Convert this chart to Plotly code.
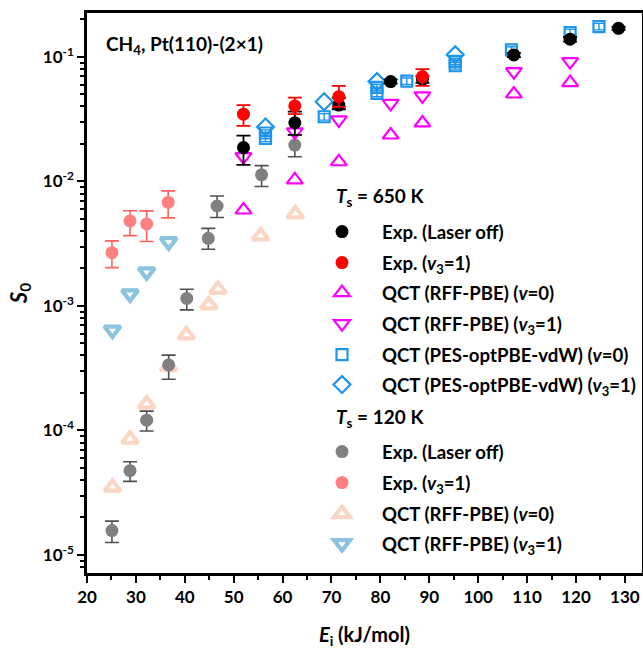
import plotly.graph_objects as go

# ---------------- Ts = 650 K ----------------
exp650_off_E = [52.0, 62.5, 71.5, 82.1, 88.6, 107.3, 118.8, 128.7]
exp650_off_S = [0.0187, 0.0296, 0.0411, 0.0634, 0.0660, 0.1038, 0.139, 0.1698]
exp650_off_hi = [0.0233, 0.0364, 0.0470, 0.0660, 0.0700, 0.1080, 0.1450, 0.1740]
exp650_off_lo = [0.0136, 0.0237, 0.0380, 0.0610, 0.0620, 0.0995, 0.1330, 0.1650]

exp650_v3_E = [52.0, 62.5, 71.5, 88.6]
exp650_v3_S = [0.0347, 0.0404, 0.0480, 0.0695]
exp650_v3_hi = [0.0410, 0.0471, 0.0585, 0.0797]
exp650_v3_lo = [0.0280, 0.0347, 0.0397, 0.0585]

qct650_v0_E = [52.0, 62.5, 71.5, 82.1, 88.6, 107.3, 118.8]
qct650_v0_S = [0.0059, 0.0103, 0.0144, 0.0236, 0.0295, 0.0504, 0.0622]

qct650_v3_E = [52.0, 62.5, 71.5, 82.1, 88.6, 107.3, 118.8]
qct650_v3_S = [0.0158, 0.0250, 0.0312, 0.0424, 0.0487, 0.0762, 0.0917]

pes_v0_E = [56.5, 56.5, 68.5, 79.3, 79.3, 85.4, 95.3, 95.3, 106.8, 118.8, 124.7]
pes_v0_S = [0.0245, 0.0222, 0.0331, 0.0570, 0.0510, 0.0640, 0.0920, 0.0850, 0.1140, 0.1570, 0.1754]

pes_v3_E = [56.5, 68.5, 79.3, 95.3]
pes_v3_S = [0.0274, 0.0437, 0.0634, 0.1040]

# ---------------- Ts = 120 K ----------------
exp120_off_E = [25.1, 28.8, 32.2, 36.7, 40.4, 44.8, 46.6, 55.7, 62.5]
exp120_off_S = [1.57e-5, 4.75e-5, 1.21e-4, 3.36e-4, 1.15e-3, 3.49e-3, 6.35e-3, 0.0113, 0.0196]
exp120_off_hi = [1.87e-5, 5.6e-5, 1.43e-4, 4.03e-4, 1.36e-3, 4.2e-3, 7.65e-3, 0.0134, 0.0237]
exp120_off_lo = [1.26e-5, 3.9e-5, 9.9e-5, 2.58e-4, 9.3e-4, 2.85e-3, 5.13e-3, 0.0091, 0.0158]

exp120_v3_E = [25.1, 28.8, 32.2, 36.6]
exp120_v3_S = [2.68e-3, 4.82e-3, 4.56e-3, 6.8e-3]
exp120_v3_hi = [3.33e-3, 5.82e-3, 5.8e-3, 8.4e-3]
exp120_v3_lo = [2.03e-3, 3.67e-3, 3.29e-3, 5.1e-3]

qct120_v0_E = [25.2, 28.8, 32.2, 36.7, 40.3, 44.9, 46.8, 55.5, 62.6]
qct120_v0_S = [3.5e-5, 8.5e-5, 1.63e-4, 3.25e-4, 5.85e-4, 1.02e-3, 1.36e-3, 3.65e-3, 5.48e-3]

qct120_v3_E = [25.2, 28.8, 32.2, 36.7]
qct120_v3_S = [6.4e-4, 1.25e-3, 1.88e-3, 3.28e-3]

y_tick_vals = [1e-5, 1e-4, 1e-3, 1e-2, 1e-1]
y_tick_text = ["10<sup>-5</sup>", "10<sup>-4</sup>", "10<sup>-3</sup>", "10<sup>-2</sup>", "10<sup>-1</sup>"]
x_tick_vals = [20, 30, 40, 50, 60, 70, 80, 90, 100, 110, 120, 130]

FONT = "Lato"
W, H = 643, 649
ML, MR, MT, MB = 87, 1, 13, 76
PH = H - MT - MB
PW = W - ML - MR


def errs(vals, hi, lo):
    return [h - v for v, h in zip(vals, hi)], [v - l for v, l in zip(vals, lo)]


fig = go.Figure()

# legend slot -> pixel row of the entry (screen y)
legend_rows = {
    "legend": 232, "legend2": 263, "legend3": 293, "legend4": 324, "legend5": 355, "legend6": 385,
    "legend7": 452, "legend8": 483, "legend9": 514, "legend10": 544,
}

# 120 K traces drawn first (underneath)
up, dn = errs(exp120_off_S, exp120_off_hi, exp120_off_lo)
t120_off = go.Scatter(x=exp120_off_E, y=exp120_off_S, mode="markers",
                      name="Exp. (Laser off)", legend="legend7", showlegend=True,
                      marker=dict(symbol="circle", size=13, color="#808080"),
                      error_y=dict(type="data", array=up, arrayminus=dn, color="#505050",
                                   thickness=1.6, width=7))
up, dn = errs(exp120_v3_S, exp120_v3_hi, exp120_v3_lo)
t120_v3 = go.Scatter(x=exp120_v3_E, y=exp120_v3_S, mode="markers",
                     name="Exp. (<i>v</i><sub>3</sub>=1)", legend="legend8", showlegend=True,
                     marker=dict(symbol="circle", size=13, color="#FF8080"),
                     error_y=dict(type="data", array=up, arrayminus=dn, color="#FF6060",
                                  thickness=1.6, width=7))
t120_q0 = go.Scatter(x=qct120_v0_E, y=qct120_v0_S, mode="markers",
                     name="QCT (RFF-PBE) (<i>v</i>=0)", legend="legend9", showlegend=True,
                     marker=dict(symbol="triangle-up-open", size=14, color="#FCD6C4",
                                 line=dict(width=4.2, color="#FCD6C4")))
t120_q3 = go.Scatter(x=qct120_v3_E, y=qct120_v3_S, mode="markers",
                     name="QCT (RFF-PBE) (<i>v</i><sub>3</sub>=1)", legend="legend10", showlegend=True,
                     marker=dict(symbol="triangle-down-open", size=14, color="#8CC3DE",
                                 line=dict(width=4.2, color="#8CC3DE")))

# 650 K traces
up, dn = errs(exp650_off_S, exp650_off_hi, exp650_off_lo)
t650_off = go.Scatter(x=exp650_off_E, y=exp650_off_S, mode="markers",
                      name="Exp. (Laser off)", legend="legend", showlegend=True,
                      marker=dict(symbol="circle", size=13, color="#000000"),
                      error_y=dict(type="data", array=up, arrayminus=dn, color="#000000",
                                   thickness=1.8, width=7))
up, dn = errs(exp650_v3_S, exp650_v3_hi, exp650_v3_lo)
t650_v3 = go.Scatter(x=exp650_v3_E, y=exp650_v3_S, mode="markers",
                     name="Exp. (<i>v</i><sub>3</sub>=1)", legend="legend2", showlegend=True,
                     marker=dict(symbol="circle", size=13, color="#FF0000"),
                     error_y=dict(type="data", array=up, arrayminus=dn, color="#FF0000",
                                  thickness=1.8, width=7))
t650_q0 = go.Scatter(x=qct650_v0_E, y=qct650_v0_S, mode="markers",
                     name="QCT (RFF-PBE) (<i>v</i>=0)", legend="legend3", showlegend=True,
                     marker=dict(symbol="triangle-up-open", size=14, color="#FF00FF",
                                 line=dict(width=2.2, color="#FF00FF")))
t650_q3 = go.Scatter(x=qct650_v3_E, y=qct650_v3_S, mode="markers",
                     name="QCT (RFF-PBE) (<i>v</i><sub>3</sub>=1)", legend="legend4", showlegend=True,
                     marker=dict(symbol="triangle-down-open", size=14, color="#FF00FF",
                                 line=dict(width=2.2, color="#FF00FF")))
t650_p0 = go.Scatter(x=pes_v0_E, y=pes_v0_S, mode="markers",
                     name="QCT (PES-optPBE-vdW) (<i>v</i>=0)", legend="legend5", showlegend=True,
                     marker=dict(symbol="square-open", size=11, color="#1C95EE",
                                 line=dict(width=2.2, color="#1C95EE")),
                     error_y=dict(type="percent", value=6, color="#1C95EE", thickness=1.4, width=6))
t650_p3 = go.Scatter(x=pes_v3_E, y=pes_v3_S, mode="markers",
                     name="QCT (PES-optPBE-vdW) (<i>v</i><sub>3</sub>=1)", legend="legend6", showlegend=True,
                     marker=dict(symbol="diamond-open", size=13, color="#1C95EE",
                                 line=dict(width=2.2, color="#1C95EE")))

for t in [t120_q0, t120_q3, t120_off, t120_v3, t650_q0, t650_q3, t650_p0, t650_p3, t650_off, t650_v3]:
    fig.add_trace(t)

axis_common = dict(showline=True, linecolor="black", linewidth=2.5, mirror=True,
                   showgrid=False, zeroline=False, ticks="outside", tickcolor="black",
                   tickfont=dict(family=FONT, size=17, color="black", weight="bold"))

y_minor = [m * 10 ** e for e in range(-6, 0) for m in range(2, 10)]

fig.update_xaxes(range=[20, 133.5], tickvals=x_tick_vals, ticklen=7, tickwidth=2,
                 minor=dict(ticks="outside", ticklen=4, tickwidth=2, tickcolor="black",
                            tickmode="array", tickvals=[25, 35, 45, 55, 65, 75, 85, 95, 105, 115, 125]),
                 title=dict(text="<i>E</i><sub>i</sub> (kJ/mol)", standoff=22,
                            font=dict(family=FONT, size=20, color="black", weight="bold")),
                 automargin=False, **axis_common)
fig.update_yaxes(type="log", range=[-5.145, -0.647], tickvals=y_tick_vals, ticktext=y_tick_text,
                 ticklen=7, tickwidth=2,
                 minor=dict(ticks="outside", ticklen=4, tickwidth=1.5, tickcolor="black",
                            tickmode="array", tickvals=y_minor),
                 title=dict(text="<i>S</i><sub>0</sub>", standoff=10,
                            font=dict(family=FONT, size=22, color="black", weight="bold")),
                 automargin=False, **axis_common)

fig.add_annotation(xref="paper", yref="paper", x=(104 - ML) / PW, y=(MT + PH - 45) / PH,
                   xanchor="left", yanchor="middle",
                   text="CH<sub>4</sub>, Pt(110)-(2×1)", showarrow=False,
                   font=dict(family=FONT, size=19, color="black", weight="bold"))

for label, row in [("<i>T</i><sub>s</sub> = 650 K", 197), ("<i>T</i><sub>s</sub> = 120 K", 418)]:
    fig.add_annotation(xref="paper", yref="paper", x=(334 - ML) / PW,
                       y=(MT + PH - row) / PH, xanchor="left", yanchor="middle",
                       text=label, showarrow=False,
                       font=dict(family=FONT, size=19, color="black", weight="bold"))

legend_style = dict(xanchor="left", yanchor="middle", bgcolor="rgba(0,0,0,0)",
                    font=dict(family=FONT, size=18.6, color="black", weight="bold"),
                    itemwidth=70, x=(302 - ML) / PW)
layout_legends = {}
for key, row in legend_rows.items():
    layout_legends[key] = dict(y=(MT + PH - row) / PH, **legend_style)

fig.update_layout(
    width=W, height=H,
    margin=dict(l=ML, r=MR, t=MT, b=MB, autoexpand=False),
    paper_bgcolor="white", plot_bgcolor="white",
    showlegend=True,
    font=dict(family=FONT, color="black", weight="bold"),
    **layout_legends,
)

fig.write_html("out.html",
               config={"displayModeBar": False},
               post_script="document.body.style.margin='0';document.body.style.padding='0';")
